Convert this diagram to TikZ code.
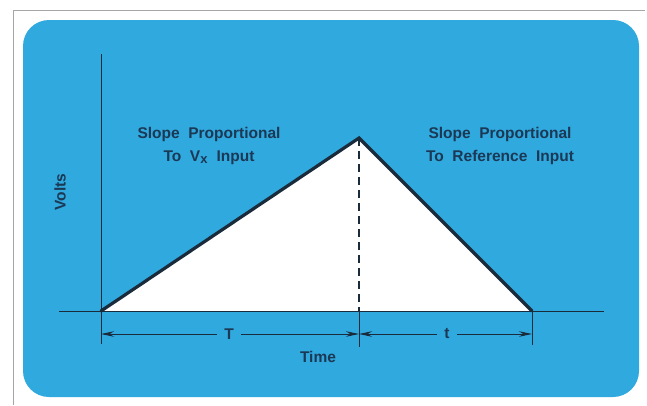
\documentclass[tikz,border=0pt]{standalone}
\usepackage{fontspec}
\setmainfont{Liberation Sans}
\usetikzlibrary{arrows.meta}
\definecolor{panel}{HTML}{30A9DF}
\definecolor{ink}{HTML}{1A2B3B}
\definecolor{txt}{HTML}{1B3854}
\tikzset{
  axis/.style={draw=ink, line width=1pt},
  ramp/.style={draw=ink, line width=3.2pt, line cap=round, line join=miter},
  dimline/.style={draw=ink, line width=1pt, -{Stealth[length=13pt,width=5.5pt]}},
  lab/.style={font=\bfseries\fontsize{15.5}{23}\selectfont, text=txt, align=center, inner sep=0pt},
}
\begin{document}
\begin{tikzpicture}[x=1pt,y=-1pt]
\useasboundingbox (0,0) rectangle (647,405);
\fill[white] (0,0) rectangle (647,405);
% outer frame
\draw[gray!70, line width=0.8pt] (13,405) -- (13,10) -- (645,10);
% blue panel
\fill[panel, rounded corners=26pt] (23,20) rectangle (639,397);
% coordinates
\coordinate (O) at (101,311);
\coordinate (A) at (359,138);
\coordinate (B) at (532,311);
\coordinate (Ytop) at (101,54);
\coordinate (Xl) at (59,311);
\coordinate (Xr) at (604,311);
\coordinate (Abase) at (359,311);
\coordinate (Ot) at (101,344);
\coordinate (At) at (359,347);
\coordinate (Bt) at (532,345);
\coordinate (Od) at (101,334);
\coordinate (Ad) at (359,334);
\coordinate (Bd) at (532,334);
% triangle fill
\fill[white] (O) -- (A) -- (B) -- cycle;
% axes
\draw[axis] (Ytop) -- (Ot);
\draw[axis] (Xl) -- (Xr);
% ramps
\draw[ramp] (O) -- (A) -- (B);
% dashed line
\draw[draw=ink, line width=1.3pt, dash pattern=on 8pt off 5pt] (A) -- (Abase);
\draw[axis] (Abase) -- (At);
\draw[axis] (B) -- (Bt);
% dimension arrows
\node[lab, fill=panel, inner xsep=7pt] (T) at (229,334) {T};
\node[lab, fill=panel, inner xsep=7pt] (tt) at (447,334) {t};
\draw[dimline] (T.west) -- (Od);
\draw[dimline] (T.east) -- (Ad);
\draw[dimline] (tt.west) -- (Ad);
\draw[dimline] (tt.east) -- (Bd);
% labels
\node[lab] (time) at (318,357) {Time};
\node[lab, rotate=90] (volts) at (60,192) {Volts};
\node[lab] (left) at (209,146) {Slope\ \ Proportional\\To\ \ V\textsubscript{\fontsize{13}{13}\selectfont x}\ \ Input};
\node[lab] (right) at (500,146) {Slope\ \ Proportional\\To\ \ Reference\ \ Input};
\end{tikzpicture}
\end{document}
